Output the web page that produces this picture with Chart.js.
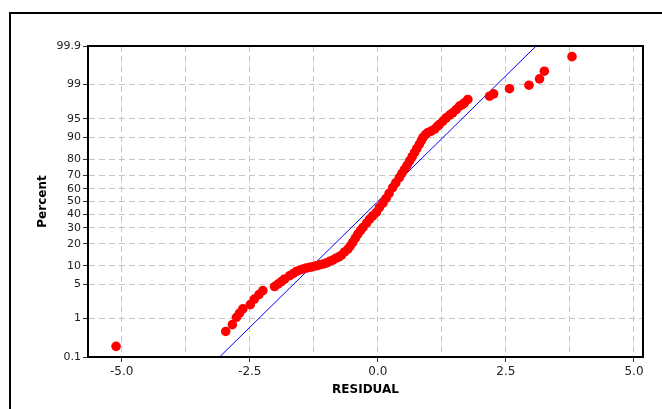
<!DOCTYPE html>
<html>
<head>
<meta charset="utf-8">
<script src="https://cdn.jsdelivr.net/npm/chart.js@4/dist/chart.umd.min.js"></script>
<style>
  html, body { margin: 0; padding: 0; background: #fff; overflow: hidden; }
  #wrap { position: relative; width: 662px; height: 409px; }
  #frame { position: absolute; left: 9px; top: 12px; width: 700px; height: 450px; border: 2px solid #000; box-sizing: border-box; }
  #chart { position: absolute; left: 0; top: 0; }
</style>
</head>
<body>
<div id="wrap">
  <div id="frame"></div>
  <canvas id="chart" width="662" height="409"></canvas>
</div>
<script>
// residuals (sorted) and their plotted percent
const residuals = [-5.11, -2.97, -2.84, -2.76, -2.70, -2.635, -2.49, -2.41, -2.32, -2.245,
  -2.016, -1.95, -1.88, -1.82, -1.72, -1.65, -1.59, -1.52, -1.46, -1.40,
  -1.33, -1.27, -1.20, -1.14, -1.07, -1.00, -0.94, -0.88, -0.82, -0.76,
  -0.71, -0.65, -0.585, -0.54, -0.49, -0.44, -0.39, -0.34, -0.29, -0.22,
  -0.16, -0.10, -0.03, 0.03, 0.10, 0.16, 0.22, 0.29, 0.35, 0.42,
  0.47, 0.52, 0.57, 0.62, 0.67, 0.716, 0.76, 0.81, 0.85, 0.88,
  0.93, 0.98, 1.04, 1.11, 1.16, 1.20, 1.27, 1.335, 1.40, 1.46,
  1.53, 1.595, 1.65, 1.69, 1.757, 2.18, 2.26, 2.57, 2.95, 3.156,
  3.25, 3.79];
const percents = [0.20, 0.49, 0.72, 1.07, 1.32, 1.64, 2.02, 2.62, 3.22, 3.84,
  4.55, 5.05, 5.59, 6.18, 7.01, 7.64, 8.23, 8.69, 9.01, 9.26,
  9.51, 9.75, 10.08, 10.39, 10.69, 11.12, 11.70, 12.24, 12.93, 13.57,
  14.3, 15.8, 17.2, 18.8, 20.8, 23.3, 25.9, 28.1, 30.3, 33.4,
  36.3, 38.8, 41.4, 45.2, 48.8, 52.4, 56.4, 60.9, 64.4, 68.3,
  71.2, 73.9, 76.4, 79.0, 81.3, 83.4, 85.3, 87.2, 88.7, 89.8,
  90.8, 91.5, 91.9, 92.5, 93.2, 93.7, 94.5, 95.2, 95.7, 96.1,
  96.6, 97.1, 97.3, 97.5, 97.87, 98.18, 98.38, 98.75, 98.96, 99.26,
  99.52, 99.80];

// fitted normal line
const fitResidual = [-3.09, 3.09];
const fitPercent = [0.1, 99.9];

const percentTicks = [0.1, 1, 5, 10, 20, 30, 40, 50, 60, 70, 80, 90, 95, 99, 99.9];
const residualTicks = [-5, -3.75, -2.5, -1.25, 0, 1.25, 2.5, 3.75, 5];
const residualLabels = [-5, -2.5, 0, 2.5, 5];

// inverse normal cdf (Acklam) for the probability axis
const probit = (p) => {
  const a = [-3.969683028665376e+01, 2.209460984245205e+02, -2.759285104469687e+02, 1.383577518672690e+02, -3.066479806614716e+01, 2.506628277459239e+00];
  const b = [-5.447609879822406e+01, 1.615858368580409e+02, -1.556989798598866e+02, 6.680131188771972e+01, -1.328068155288572e+01];
  const c = [-7.784894002430293e-03, -3.223964580411365e-01, -2.400758277161838e+00, -2.549732539343734e+00, 4.374664141464968e+00, 2.938163982698783e+00];
  const d = [7.784695709041462e-03, 3.224671290700398e-01, 2.445134137142996e+00, 3.754408661907416e+00];
  const tail = (q) => (((((c[0]*q+c[1])*q+c[2])*q+c[3])*q+c[4])*q+c[5]) / ((((d[0]*q+d[1])*q+d[2])*q+d[3])*q+1);
  if (p < 0.02425) return tail(Math.sqrt(-2 * Math.log(p)));
  if (p > 1 - 0.02425) return -tail(Math.sqrt(-2 * Math.log(1 - p)));
  const q = p - 0.5, r = q * q;
  return (((((a[0]*r+a[1])*r+a[2])*r+a[3])*r+a[4])*r+a[5])*q / (((((b[0]*r+b[1])*r+b[2])*r+b[3])*r+b[4])*r+1);
};
const z = (pct) => probit(pct / 100);

const plotFrame = {
  id: 'plotFrame',
  afterDraw(chart) {
    const { ctx, chartArea: a } = chart;
    ctx.save();
    ctx.strokeStyle = '#000';
    ctx.lineWidth = 2;
    ctx.strokeRect(a.left, a.top, a.right - a.left, a.bottom - a.top);
    ctx.restore();
  }
};

new Chart(document.getElementById('chart'), {
  type: 'scatter',
  data: {
    datasets: [
      {
        label: 'Residuals',
        data: residuals.map((r, i) => ({ x: r, y: z(percents[i]) })),
        backgroundColor: '#ff0000',
        borderWidth: 0,
        pointRadius: 4.8,
        order: 1
      },
      {
        type: 'line',
        label: 'Fit',
        data: fitResidual.map((r, i) => ({ x: r, y: z(fitPercent[i]) })),
        borderColor: '#0000ff',
        borderWidth: 1,
        pointRadius: 0,
        fill: false,
        order: 2
      }
    ]
  },
  options: {
    responsive: false,
    animation: false,
    layout: { padding: { left: 0, top: 46, right: 19, bottom: 0 } },
    plugins: { legend: { display: false }, tooltip: { enabled: false } },
    scales: {
      x: {
        type: 'linear',
        min: -5.658,
        max: 5.176,
        afterBuildTicks: (scale) => { scale.ticks = residualTicks.map((v) => ({ value: v })); },
        afterFit: (scale) => { scale.height = 52; },
        ticks: {
          color: '#222',
          font: { family: 'DejaVu Sans', size: 12 },
          padding: 3,
          maxRotation: 0,
          autoSkip: false,
          callback: (v) => (residualLabels.includes(v) ? v.toFixed(1) : '')
        },
        grid: {
          color: '#c4c4c4',
          lineWidth: 1,
          tickLength: 5,
          tickColor: (ctx) => (ctx.tick && residualLabels.includes(ctx.tick.value) ? '#333' : 'rgba(0,0,0,0)')
        },
        border: { color: '#000', width: 2, dash: [6, 4] },
        title: {
          display: true,
          text: 'RESIDUAL',
          color: '#000',
          font: { family: 'DejaVu Sans', size: 12, weight: 'bold' },
          padding: { top: 0, bottom: 12 }
        }
      },
      y: {
        type: 'linear',
        min: z(0.1),
        max: z(99.9),
        afterBuildTicks: (scale) => { scale.ticks = percentTicks.map((p) => ({ value: z(p) })); },
        afterFit: (scale) => { scale.width = 88; },
        ticks: {
          color: '#222',
          font: { family: 'DejaVu Sans', size: 11 },
          padding: 2,
          autoSkip: false,
          callback: (v, i) => String(percentTicks[i])
        },
        grid: {
          color: '#c4c4c4',
          lineWidth: 1,
          tickLength: 5,
          tickColor: '#333'
        },
        border: { color: '#000', width: 2, dash: [6, 4] },
        title: {
          display: true,
          text: 'Percent',
          color: '#000',
          font: { family: 'DejaVu Sans', size: 12, weight: 'bold' },
          padding: { top: 36, bottom: 0 }
        }
      }
    }
  },
  plugins: [plotFrame]
});
</script>
</body>
</html>
